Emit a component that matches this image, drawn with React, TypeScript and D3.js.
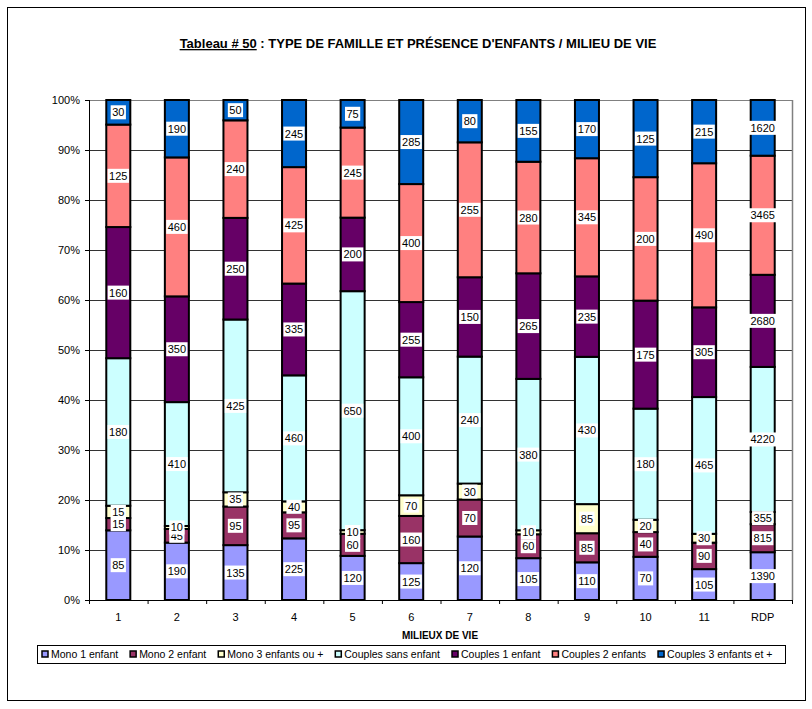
import React from "react";
import * as d3 from "d3";

const categories = ["1", "2", "3", "4", "5", "6", "7", "8", "9", "10", "11", "RDP"];
const seriesNames = [
  "Mono 1 enfant",
  "Mono 2 enfant",
  "Mono 3 enfants ou +",
  "Couples sans enfant",
  "Couples 1 enfant",
  "Couples 2 enfants",
  "Couples 3 enfants et +",
];
const mono1 = [85, 190, 135, 225, 120, 125, 120, 105, 110, 70, 105, 1390];
const mono2 = [15, 45, 95, 95, 60, 160, 70, 60, 85, 40, 90, 815];
const mono3 = [15, 10, 35, 40, 10, 70, 30, 10, 85, 20, 30, 355];
const couples0 = [180, 410, 425, 460, 650, 400, 240, 380, 430, 180, 465, 4220];
const couples1 = [160, 350, 250, 335, 200, 255, 150, 265, 235, 175, 305, 2680];
const couples2 = [125, 460, 240, 425, 245, 400, 255, 280, 345, 200, 490, 3465];
const couples3 = [30, 190, 50, 245, 75, 285, 80, 155, 170, 125, 215, 1620];
const colors = ["#9999FF", "#993366", "#FFFFCC", "#CCFFFF", "#660066", "#FF8080", "#0066CC"];
const yTicks = [0, 0.1, 0.2, 0.3, 0.4, 0.5, 0.6, 0.7, 0.8, 0.9, 1];

const seriesValues = [mono1, mono2, mono3, couples0, couples1, couples2, couples3];

const W = 812;
const H = 709;
const FONT = "Arial, 'Liberation Sans', sans-serif";

function measure(text: string, font: string): number {
  if (typeof document === "undefined") return text.length * 6;
  const c = document.createElement("canvas");
  const ctx = c.getContext("2d");
  if (!ctx) return text.length * 6;
  ctx.font = font;
  return ctx.measureText(text).width;
}

export default function App() {
  const left = 89;
  const right = 792;
  const top = 100;
  const bottom = 600;

  const x = d3
    .scaleBand<string>()
    .domain(categories)
    .range([left, right])
    .paddingInner(0.59)
    .paddingOuter(0.295);
  const y = d3.scaleLinear().domain([0, 1]).range([bottom, top]);

  const rows = categories.map((c, i) => {
    const r: any = { cat: c };
    seriesNames.forEach((s, k) => (r[s] = seriesValues[k][i]));
    return r;
  });
  const stacked = d3.stack<any>().keys(seriesNames).offset(d3.stackOffsetExpand)(rows);

  const step = x.step();
  const tickXs = d3.range(categories.length + 1).map((i) => left + i * step);

  // legend layout
  const legSize = 10.5;
  const legFont = `${legSize}px ${FONT}`;
  const legGap = 11;
  const legStart = 42;
  let cur = legStart;
  const legendItems = seriesNames.map((n, k) => {
    const item = { name: n, x: cur, color: colors[k] };
    cur += 10 + measure(n, legFont) + legGap;
    return item;
  });

  const labelFont = `11px ${FONT}`;

  return (
    <svg
      width={W}
      height={H}
      style={{ position: "absolute", left: 0, top: 0, display: "block", background: "#fff" }}
      fontFamily={FONT}
    >
      <rect x={0} y={0} width={W} height={H} fill="#fff" />
      <rect x={7.5} y={7.5} width={798} height={693} fill="none" stroke="#000" strokeWidth={1} />

      {/* title */}
      <text x={418} y={48} textAnchor="middle" fontSize={13} fontWeight="bold" fill="#000">
        <tspan textDecoration="underline">Tableau # 50</tspan>
        <tspan> : TYPE DE FAMILLE ET PRÉSENCE D'ENFANTS / MILIEU DE VIE</tspan>
      </text>

      {/* gridlines */}
      {yTicks.map((t) => (
        <line
          key={"g" + t}
          x1={left}
          x2={right}
          y1={y(t) + 0.5}
          y2={y(t) + 0.5}
          stroke={t === 1 ? "#808080" : "#333"}
          strokeWidth={1}
        />
      ))}
      <line x1={right + 0.5} x2={right + 0.5} y1={top} y2={bottom} stroke="#808080" strokeWidth={1.5} />

      {/* y axis */}
      <line x1={left + 0.5} x2={left + 0.5} y1={top} y2={bottom + 0.5} stroke="#000" />
      {yTicks.map((t) => (
        <g key={"yt" + t}>
          <line x1={left - 4} x2={left} y1={y(t) + 0.5} y2={y(t) + 0.5} stroke="#000" />
          <text x={left - 9} y={y(t) + 4} textAnchor="end" fontSize={11} fill="#000">
            {d3.format(".0%")(t)}
          </text>
        </g>
      ))}

      {/* x axis */}
      <line x1={left} x2={right} y1={bottom + 0.5} y2={bottom + 0.5} stroke="#000" />
      {tickXs.map((tx, i) => (
        <line key={"xt" + i} x1={tx + 0.5} x2={tx + 0.5} y1={bottom} y2={bottom + 4} stroke="#000" />
      ))}
      {categories.map((c) => (
        <text
          key={"xl" + c}
          x={(x(c) as number) + x.bandwidth() / 2}
          y={621}
          textAnchor="middle"
          fontSize={11}
          fill="#000"
        >
          {c}
        </text>
      ))}
      <text x={440} y={639} textAnchor="middle" fontSize={10} fontWeight="bold" fill="#000">
        MILIEUX DE VIE
      </text>

      {/* bars */}
      {stacked.map((layer, k) => (
        <g key={"s" + k}>
          {layer.map((d, i) => {
            const x0 = x(categories[i]) as number;
            const y0 = y(d[1]);
            const y1 = y(d[0]);
            return (
              <rect
                key={i}
                x={x0}
                y={y0}
                width={x.bandwidth()}
                height={Math.max(0, y1 - y0)}
                fill={colors[k]}
                stroke="#000"
                strokeWidth={2}
              />
            );
          })}
        </g>
      ))}

      {/* labels */}
      {stacked.map((layer, k) => (
        <g key={"l" + k}>
          {layer.map((d, i) => {
            const cx = (x(categories[i]) as number) + x.bandwidth() / 2;
            const cy = (y(d[0]) + y(d[1])) / 2;
            const txt = String(seriesValues[k][i]);
            const tw = measure(txt, labelFont);
            return (
              <g key={i}>
                <rect x={cx - tw / 2 - 1.5} y={cy - 7} width={tw + 3} height={14} fill="#fff" />
                <text x={cx} y={cy + 4} textAnchor="middle" fontSize={11} fill="#000">
                  {txt}
                </text>
              </g>
            );
          })}
        </g>
      ))}

      {/* legend */}
      <rect x={37.5} y={645.5} width={748} height={18} fill="#fff" stroke="#000" strokeWidth={1} />
      {legendItems.map((it) => (
        <g key={it.name}>
          <rect x={it.x} y={651} width={6} height={6} fill={it.color} stroke="#000" strokeWidth={1.5} />
          <text x={it.x + 9} y={658} fontSize={legSize} fill="#000">
            {it.name}
          </text>
        </g>
      ))}
    </svg>
  );
}
